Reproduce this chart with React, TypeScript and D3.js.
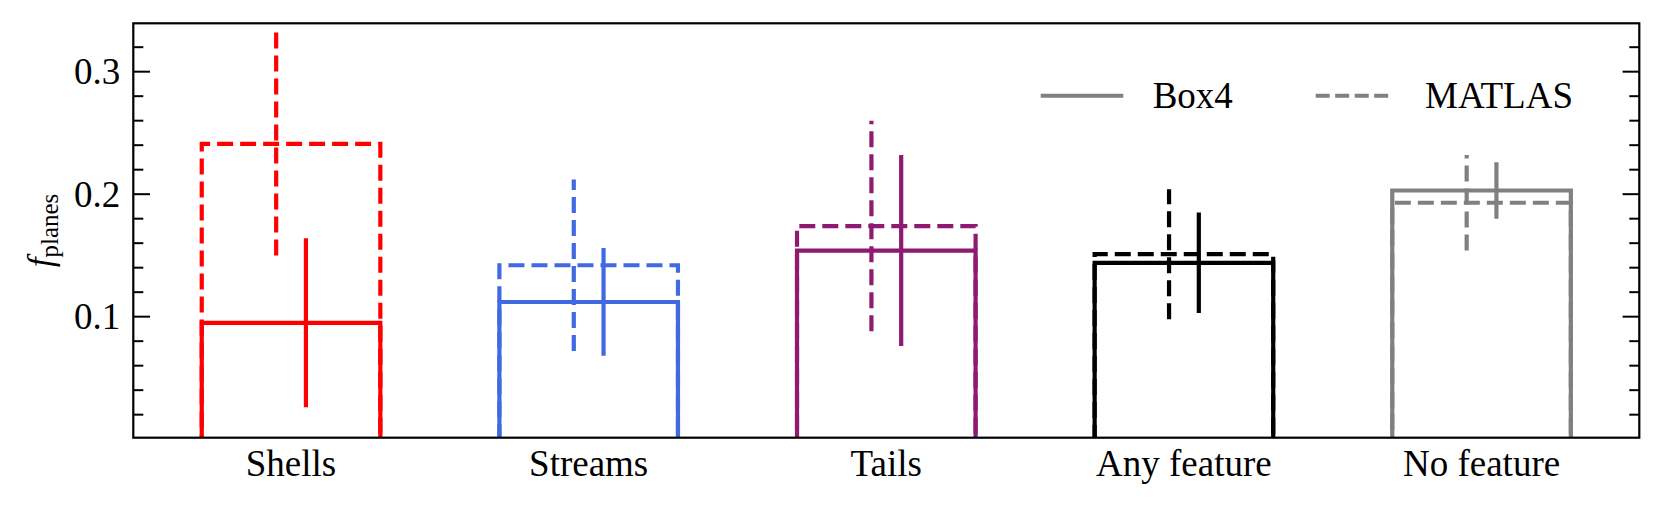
import React, { useRef, useEffect } from 'react'
import * as d3 from 'd3'

const categories = ['Shells', 'Streams', 'Tails', 'Any feature', 'No feature']
const colors = ['#ff0000', '#4169e1', '#8e1a72', '#000000', '#808080']
const box4Values = [0.095, 0.112, 0.154, 0.144, 0.203]
const box4Errors = [0.069, 0.044, 0.078, 0.041, 0.023]
const matlasValues = [0.241, 0.142, 0.174, 0.151, 0.193]
const matlasErrors = [0.091, 0.07, 0.086, 0.053, 0.039]
const yMajorTicks = [0.1, 0.2, 0.3]
const legendLabels = ['Box4', 'MATLAS']

const W = 1662
const H = 508
const FONT = '"Liberation Serif", "Times New Roman", serif'

export default function App() {
  const ref = useRef<SVGSVGElement>(null)

  useEffect(() => {
    const svg = d3.select(ref.current)
    svg.selectAll('*').remove()

    const left = 133.3
    const right = 1639.3
    const top = 23.3
    const bottom = 437.7

    const x = d3.scaleLinear().domain([-0.53, 4.53]).range([left, right])
    const y = d3.scaleLinear().domain([0.0012, 0.3395]).range([bottom, top])
    const barW = 0.6
    const off = 0.05
    const lw = 4.2
    const dash = '16,7'

    svg
      .append('defs')
      .append('clipPath')
      .attr('id', 'plot-clip')
      .append('rect')
      .attr('x', left)
      .attr('y', top)
      .attr('width', right - left)
      .attr('height', bottom - top)

    const plot = svg.append('g').attr('clip-path', 'url(#plot-clip)')

    const barPath = (i: number, v: number) => {
      const x0 = x(i - barW / 2)
      const x1 = x(i + barW / 2)
      return `M${x0},${y(0)}L${x1},${y(0)}L${x1},${y(v)}L${x0},${y(v)}Z`
    }

    // Box4 (solid) bars and errors
    categories.forEach((_, i) => {
      plot
        .append('path')
        .attr('d', barPath(i, box4Values[i]))
        .attr('fill', 'none')
        .attr('stroke', colors[i])
        .attr('stroke-width', lw)
      plot
        .append('line')
        .attr('x1', x(i + off))
        .attr('x2', x(i + off))
        .attr('y1', y(box4Values[i] - box4Errors[i]))
        .attr('y2', y(box4Values[i] + box4Errors[i]))
        .attr('stroke', colors[i])
        .attr('stroke-width', lw)
    })

    // MATLAS (dashed) bars and errors
    categories.forEach((_, i) => {
      plot
        .append('path')
        .attr('d', barPath(i, matlasValues[i]))
        .attr('fill', 'none')
        .attr('stroke', colors[i])
        .attr('stroke-width', lw)
        .attr('stroke-dasharray', dash)
      plot
        .append('line')
        .attr('x1', x(i - off))
        .attr('x2', x(i - off))
        .attr('y1', y(matlasValues[i] - matlasErrors[i]))
        .attr('y2', y(matlasValues[i] + matlasErrors[i]))
        .attr('stroke', colors[i])
        .attr('stroke-width', lw)
        .attr('stroke-dasharray', dash)
    })

    // ticks (inward, left and right)
    const ticks = svg.append('g').attr('stroke', '#000').attr('stroke-width', 2)
    const minor = y.ticks(20).filter((t) => !yMajorTicks.some((m) => Math.abs(m - t) < 1e-9))
    minor.forEach((t) => {
      ticks.append('line').attr('x1', left).attr('x2', left + 10).attr('y1', y(t)).attr('y2', y(t))
      ticks.append('line').attr('x1', right).attr('x2', right - 10).attr('y1', y(t)).attr('y2', y(t))
    })
    yMajorTicks.forEach((t) => {
      ticks.append('line').attr('x1', left).attr('x2', left + 16.7).attr('y1', y(t)).attr('y2', y(t))
      ticks.append('line').attr('x1', right).attr('x2', right - 16.7).attr('y1', y(t)).attr('y2', y(t))
      svg
        .append('text')
        .attr('x', left - 13)
        .attr('y', y(t) + 12.5)
        .attr('text-anchor', 'end')
        .attr('font-family', FONT)
        .attr('font-size', 37)
        .text(d3.format('.1f')(t))
    })

    // frame
    svg
      .append('rect')
      .attr('x', left)
      .attr('y', top)
      .attr('width', right - left)
      .attr('height', bottom - top)
      .attr('fill', 'none')
      .attr('stroke', '#000')
      .attr('stroke-width', 2.2)

    // category labels
    categories.forEach((c, i) => {
      svg
        .append('text')
        .attr('x', x(i))
        .attr('y', 476)
        .attr('text-anchor', 'middle')
        .attr('font-family', FONT)
        .attr('font-size', 37)
        .text(c)
    })

    // y label
    const yl = svg
      .append('text')
      .attr('transform', `translate(52,${(top + bottom) / 2}) rotate(-90)`)
      .attr('text-anchor', 'middle')
      .attr('font-family', FONT)
      .attr('font-size', 35)
    yl.append('tspan').attr('font-style', 'italic').text('f')
    yl.append('tspan').attr('font-size', 25).attr('dy', 6).text('planes')

    // legend
    const lg = svg.append('g')
    lg.append('line')
      .attr('x1', 1040.7).attr('x2', 1123.3).attr('y1', 95.7).attr('y2', 95.7)
      .attr('stroke', '#808080').attr('stroke-width', 4)
    lg.append('text')
      .attr('x', 1152.7).attr('y', 108.3)
      .attr('font-family', FONT).attr('font-size', 37)
      .text(legendLabels[0])
    lg.append('line')
      .attr('x1', 1315.7).attr('x2', 1393.3).attr('y1', 95.7).attr('y2', 95.7)
      .attr('stroke', '#808080').attr('stroke-width', 4)
      .attr('stroke-dasharray', '14,5.5')
    lg.append('text')
      .attr('x', 1425).attr('y', 108.3)
      .attr('font-family', FONT).attr('font-size', 37)
      .text(legendLabels[1])
  }, [])

  return (
    <div style={{ position: 'fixed', left: 0, top: 0, background: '#fff' }}>
      <svg ref={ref} width={W} height={H} style={{ display: 'block' }} />
    </div>
  )
}
